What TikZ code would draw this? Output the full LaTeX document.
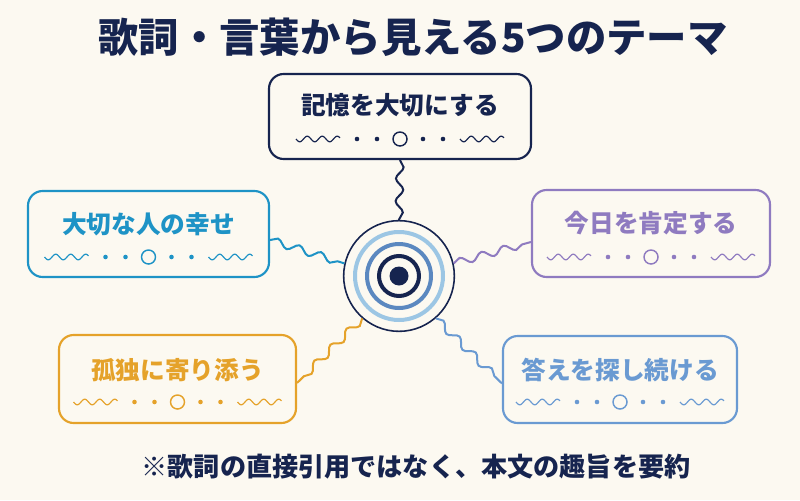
\documentclass[tikz,border=0pt]{standalone}
\usepackage{fontspec}
\newfontfamily\jp{Noto Sans CJK JP}
\usetikzlibrary{calc,decorations.pathmorphing}
\definecolor{navy}{HTML}{16244F}
\definecolor{cyanc}{HTML}{1E93C6}
\definecolor{purp}{HTML}{8F7BC0}
\definecolor{oran}{HTML}{E5A22A}
\definecolor{blu}{HTML}{6A9AD2}
\definecolor{ringl}{HTML}{9CC6E4}
\definecolor{ringm}{HTML}{5B88C0}
\definecolor{bg}{HTML}{FCF9F1}
\newcommand{\deco}[2]{%
 \begin{scope}[shift={(#1)}, #2, line width=0.9pt]
  \draw plot[domain=-104:-60, samples=60] (\x,{2.8*sin((\x+104)*24)});
  \draw plot[domain=60:104, samples=60] (\x,{2.8*sin((\x-60)*24)});
  \fill (-43,0) circle[radius=2.3];
  \fill (-23,0) circle[radius=2.3];
  \fill (23,0) circle[radius=2.3];
  \fill (43,0) circle[radius=2.3];
  \draw[line width=1.1pt] (0,0) circle[radius=7];
 \end{scope}}
\begin{document}
\begin{tikzpicture}[x=0.75pt,y=-0.75pt,
  box/.style={draw, rounded corners=11pt, line width=1.6pt, inner sep=0pt},
  lbl/.style={font={\jp\bfseries\fontsize{18.5pt}{22pt}\selectfont}},
  conn/.style={line width=1.5pt, decorate, decoration={snake, segment length=17pt, amplitude=2.8pt}}]
\fill[bg] (0,0) rectangle (800,500);
\useasboundingbox (0,0) rectangle (800,500);

\node[font={\jp\bfseries\fontsize{30.3pt}{36pt}\selectfont}, text=navy] (title) at (413,37) {歌詞・言葉から見える5つのテーマ};

% boxes
\node[box, draw=navy, minimum width=196.5pt, minimum height=63.75pt] (top) at (400,116.5) {};
\node[box, draw=cyanc, minimum width=180.75pt, minimum height=64.5pt] (left) at (148.5,234) {};
\node[box, draw=purp, minimum width=178.5pt, minimum height=65.25pt] (right) at (651,233.5) {};
\node[box, draw=oran, minimum width=177.75pt, minimum height=66pt] (bl) at (177.5,379) {};
\node[box, draw=blu, minimum width=175.5pt, minimum height=65.25pt] (br) at (620,379.5) {};

% labels
\node[lbl, text=navy] (toptxt) at ($(top.center)+(0,-11)$) {記憶を大切にする};
\node[lbl, text=cyanc] (lefttxt) at ($(left.center)+(0,-10)$) {大切な人の幸せ};
\node[lbl, text=purp] (righttxt) at ($(right.center)+(0,-10)$) {今日を肯定する};
\node[lbl, text=oran] (bltxt) at ($(bl.center)+(0,-9)$) {孤独に寄り添う};
\node[lbl, text=blu] (brtxt) at ($(br.center)+(0,-9)$) {答えを探し続ける};

% decorations
\coordinate (topd) at ($(top.center)+(0,22.5)$);
\coordinate (leftd) at ($(left.center)+(0,23)$);
\coordinate (rightd) at ($(right.center)+(0,23.5)$);
\coordinate (bld) at ($(bl.center)+(0,23)$);
\coordinate (brd) at ($(br.center)+(0,22.5)$);
\deco{topd}{navy}
\deco{leftd}{cyanc}
\deco{rightd}{purp}
\deco{bld}{oran}
\deco{brd}{blu}

% hub
\node[circle, draw=navy, line width=1.2pt, minimum size=83pt, inner sep=0pt] (hub) at (399,276) {};
\draw[ringl, line width=3pt] (hub) circle[radius=44];
\draw[ringm, line width=3pt] (hub) circle[radius=32];
\draw[navy, line width=3pt] (hub) circle[radius=20];
\fill[navy] (hub) circle[radius=9.5];

% connectors
\coordinate (lc) at ($(left.east)+(0,6)$);
\coordinate (rc) at ($(right.west)+(0,8.5)$);
\coordinate (blc) at ($(bl.east)+(0,4)$);
\coordinate (brc) at ($(br.west)+(0,4)$);
\draw[conn, navy] (top.south) -- (hub.north);
\draw[conn, cyanc] (lc) -- (hub.167);
\draw[conn, purp] (hub.13) -- (rc);
\draw[conn, oran] (hub.229) -- (blc);
\draw[conn, blu] (hub.311) -- (brc);

\node[font={\jp\bfseries\fontsize{19.6pt}{23pt}\selectfont}, text=navy] (note) at (416,467) {※歌詞の直接引用ではなく、本文の趣旨を要約};
\end{tikzpicture}
\end{document}
